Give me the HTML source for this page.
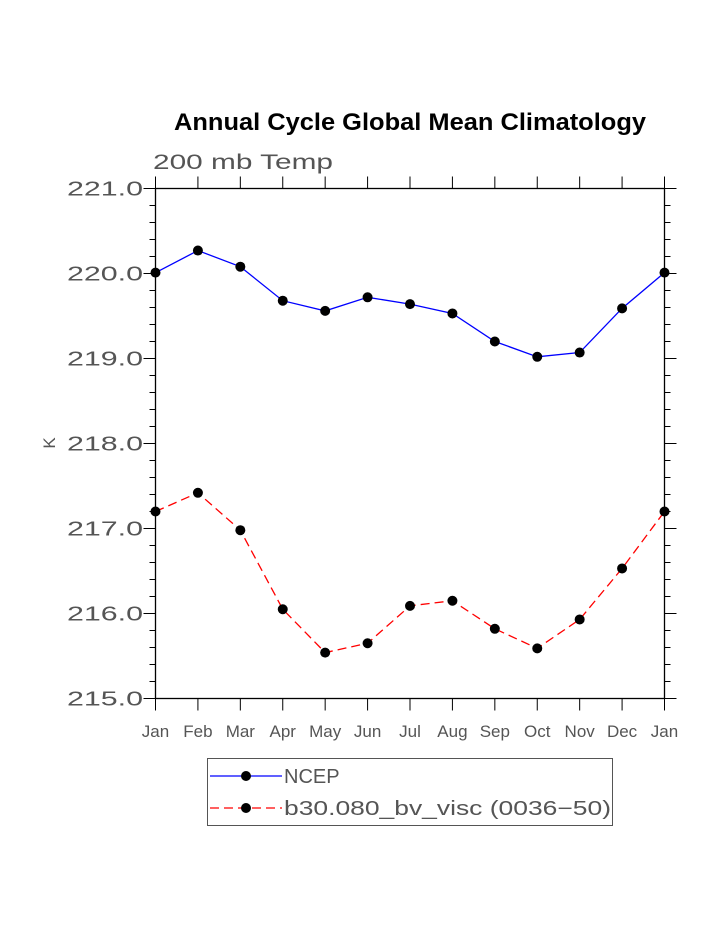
<!DOCTYPE html>
<html><head><meta charset="utf-8"><style>
body{margin:0;background:#fff;width:723px;height:935px;overflow:hidden}
svg text{font-family:"Liberation Sans",sans-serif}
</style></head><body>
<svg id="c" width="723" height="935">
<text x="174" y="130" font-size="24" font-weight="bold" fill="#000" textLength="472" lengthAdjust="spacingAndGlyphs">Annual Cycle Global Mean Climatology</text>
<text x="153" y="169" font-size="21" fill="#555" textLength="180" lengthAdjust="spacingAndGlyphs">200 mb Temp</text>
<text x="55" y="443" font-size="17" fill="#555" transform="rotate(-90 55 443)" text-anchor="middle">K</text>
<g id="ax"></g><g id="series"></g>
<g>
<rect x="207.5" y="758.5" width="405" height="67" fill="none" stroke="#555"/>
<g>
<line x1="210" y1="776" x2="282" y2="776" stroke="#00f" stroke-width="1.3"/><circle cx="246" cy="776" r="5"/>
<text x="284" y="783" font-size="20" fill="#555">NCEP</text></g>
<g>
<line x1="210" y1="808" x2="282" y2="808" stroke="#f00" stroke-width="1.3" stroke-dasharray="9,5"/><circle cx="246" cy="808" r="5"/>
<text x="284" y="815" font-size="20" fill="#555" textLength="327" lengthAdjust="spacingAndGlyphs">b30.080_bv_visc (0036−50)</text></g>
</g>
</svg>
<script>
const months=["Jan","Feb","Mar","Apr","May","Jun","Jul","Aug","Sep","Oct","Nov","Dec","Jan"];
const ncep=[220.01,220.27,220.08,219.68,219.56,219.72,219.64,219.53,219.2,219.02,219.07,219.59,220.01];
const model=[217.2,217.42,216.98,216.05,215.54,215.65,216.09,216.15,215.82,215.59,215.93,216.53,217.2];
const yTicks=[215,216,217,218,219,220,221];
const L=155.5,R=664.5,T=188.5,B=698.5,ymin=215,ymax=221;
const X=i=>L+(R-L)*i/(months.length-1);
const Y=v=>B-(B-T)*(v-ymin)/(ymax-ymin);
const NS="http://www.w3.org/2000/svg";
function mk(p,t,a){const e=document.createElementNS(NS,t);for(const k in a)e.setAttribute(k,a[k]);p.appendChild(e);return e;}
const ax=document.getElementById('ax');
const fr=mk(ax,'rect',{x:L,y:T,width:R-L,height:B-T,fill:'none',stroke:'#000','stroke-width':1.3});


for(let v=ymin;v<=ymax+1e-9;v+=0.2){const maj=Math.abs(v-Math.round(v))<1e-6;const len=maj?12:6;const y=Y(v);
mk(ax,'line',{x1:L-len,y1:y,x2:L,y2:y,stroke:'#000'});mk(ax,'line',{x1:R,y1:y,x2:R+len,y2:y,stroke:'#000'});}
yTicks.forEach(v=>{const t=mk(ax,'text',{x:67,y:Y(v)+7,'font-size':20,fill:'#555',textLength:76,lengthAdjust:'spacingAndGlyphs'});t.textContent=v.toFixed(1);

});
months.forEach((m,i)=>{const x=X(i);
mk(ax,'line',{x1:x,y1:B,x2:x,y2:B+12,stroke:'#000'});mk(ax,'line',{x1:x,y1:T-12,x2:x,y2:T,stroke:'#000'});
const t=mk(ax,'text',{x:x,y:737,'text-anchor':'middle','font-size':17,fill:'#555'});t.textContent=m;

});
const sg=document.getElementById('series');
function series(vals,col,dash,name){const g=mk(sg,'g',{});


mk(g,'polyline',{points:vals.map((v,i)=>X(i)+','+Y(v)).join(' '),fill:'none',stroke:col,'stroke-width':1.3,'stroke-dasharray':dash});
vals.forEach((v,i)=>{const c=mk(g,'circle',{cx:X(i),cy:Y(v),r:5,fill:'#000'});

});}
series(ncep,'#00f','none','series-ncep');
series(model,'#f00','9,5','series-b30');
</script>
</body></html>
